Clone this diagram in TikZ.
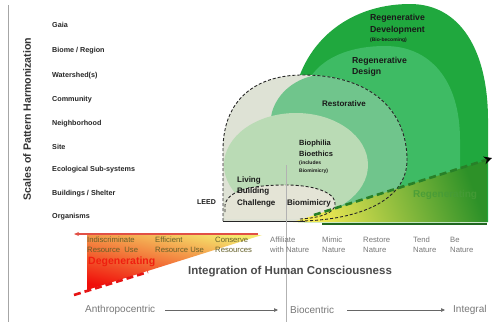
\documentclass[tikz,border=0pt]{standalone}
\usepackage{fontspec}
\setmainfont{Liberation Sans}
\usetikzlibrary{arrows.meta}
\definecolor{devgreen}{RGB}{32,168,62}
\definecolor{desgreen}{RGB}{62,187,100}
\definecolor{resgreen}{RGB}{112,197,140}
\definecolor{biogreen}{RGB}{186,219,181}
\definecolor{graybg}{RGB}{222,226,213}
\definecolor{lbcfill}{RGB}{228,228,214}
\definecolor{dashgreen}{RGB}{40,128,40}
\definecolor{olive}{RGB}{100,95,40}
\definecolor{lblgray}{RGB}{120,120,120}
\definecolor{degred}{RGB}{240,30,15}
\definecolor{regtext}{RGB}{70,155,55}
\definecolor{triY}{RGB}{245,235,85}
\definecolor{triM}{RGB}{200,215,70}
\definecolor{triG}{RGB}{45,145,40}
\definecolor{degY}{RGB}{245,232,110}
\definecolor{degO}{RGB}{250,140,40}
\definecolor{degR}{RGB}{240,15,10}
\definecolor{redline}{RGB}{225,80,70}
\definecolor{reddash}{RGB}{230,20,20}
\tikzset{
  scalelbl/.style={anchor=base west, inner sep=0, text=black!85, font=\fontsize{7.2}{8}\selectfont\bfseries},
  shapelbl/.style={anchor=base west, inner sep=0, text=black!90, font=\fontsize{8.7}{10}\selectfont\bfseries},
  smalllbl/.style={anchor=base west, inner sep=0, text=black!90, font=\fontsize{5}{6}\selectfont\bfseries},
  axlbl/.style={anchor=base west, inner sep=0, font=\fontsize{7.7}{8}\selectfont},
  botlbl/.style={anchor=west, inner sep=0, text=lblgray, font=\fontsize{10}{11}\selectfont},
  botarrow/.style={draw=black!60, line width=0.6pt, -{Triangle[length=4pt,width=3.5pt]}},
}
\begin{document}
\begin{tikzpicture}[x=1pt,y=-1pt]
\fill[white] (0,0) rectangle (494,322);
\useasboundingbox (0,0) rectangle (494,322);

% left guide line
\coordinate (lgtop) at (8,5);
\coordinate (lgbot) at (8,322);
\draw[black!35, line width=0.8pt] (lgtop) -- (lgbot);

% outer regions
\fill[devgreen] (298,80) .. controls (315,30) and (360,4) .. (410,4)
  .. controls (460,4) and (488,50) .. (488,120) -- (488,222) -- (298,222) -- cycle;
\fill[desgreen] (304,90) .. controls (315,58) and (350,46) .. (385,46)
  .. controls (430,46) and (460,80) .. (460,140) -- (460,222) -- (304,222) -- cycle;

% dashed region (gray)
\fill[graybg] (223,221) -- (223,150) .. controls (223,100) and (255,76) .. (300,75)
  .. controls (370,74) and (407,110) .. (407,160)
  .. controls (407,200) and (360,220) .. (300,221) -- cycle;
\begin{scope}
\clip (223,221) -- (223,150) .. controls (223,100) and (255,76) .. (300,75)
  .. controls (370,74) and (407,110) .. (407,160)
  .. controls (407,200) and (360,220) .. (300,221) -- cycle;
\fill[resgreen] (330,60) -- (312,76) .. controls (295,80) and (278,92) .. (272,112)
  -- (255,200) -- (430,230) -- (430,60) -- cycle;
\fill[biogreen] (296,165) ellipse [x radius=72, y radius=52];
\end{scope}

% LBC ellipse
\fill[lbcfill] (225,219) -- (225,205) .. controls (228,188) and (260,185) .. (285,185)
  .. controls (320,185) and (337,195) .. (335,205)
  .. controls (334,213) and (320,218) .. (300,219) -- cycle;

% regenerating triangle
\shade[bottom color=triY, middle color=triM, top color=triG, shading angle=-70]
  (293,222) -- (487,160) -- (487,222) -- cycle;
\begin{scope}
\clip (380,180) rectangle (486,205);
\node[anchor=base west, inner sep=0, text=regtext, font=\fontsize{10}{12}\selectfont\bfseries, opacity=0.85] (regen) at (413,197) {Regenerating};
\end{scope}
\coordinate (gbl) at (322,224);
\coordinate (gbr) at (487,224);
\draw[dashgreen!80!black, line width=1.2pt] (gbl) -- (gbr);

% dashed outlines
\draw[black!85, line width=0.9pt, dash pattern=on 3pt off 2pt]
  (223,221) -- (223,150) .. controls (223,100) and (255,76) .. (300,75)
  .. controls (370,74) and (407,110) .. (407,160)
  .. controls (407,200) and (360,220) .. (300,221);
\coordinate (bl1) at (223,221);
\coordinate (bl2) at (305,221);
\draw[black!85, line width=1pt] (bl1) -- (bl2);
\draw[black!85, line width=0.9pt, dash pattern=on 3pt off 2pt]
  (225,212) -- (225,205) .. controls (228,188) and (260,185) .. (285,185)
  .. controls (320,185) and (337,195) .. (335,205)
  .. controls (334,213) and (320,218) .. (300,219);

% thick green dashed trajectory
\coordinate (gstart) at (314,215);
\coordinate (gend) at (492,158);
\draw[dashgreen, line width=2.6pt, dash pattern=on 7pt off 4pt,
  -{Stealth[length=8pt,width=8pt,color=black]}] (gstart) -- (gend);

% vertical divider
\coordinate (vtop) at (286,165);
\coordinate (vbot) at (286,322);
\draw[black!30, line width=0.6pt] (vtop) -- (vbot);

% degenerating triangle
\shade[top color=degY, middle color=degO, bottom color=degR, shading angle=-12]
  (87,235) -- (262,235) -- (87,290) -- cycle;
\coordinate (redR) at (258,234);
\coordinate (redL) at (74,234);
\draw[redline, line width=1.1pt, -{Stealth[length=5pt,width=4pt]}] (redR) -- (redL);
\coordinate (rd1) at (74,295);
\coordinate (rd2) at (148,272);
\draw[reddash, line width=2.6pt, dash pattern=on 7pt off 4pt] (rd1) -- (rd2);
\node[anchor=base west, inner sep=0, text=degred, font=\fontsize{10.5}{12}\selectfont\bfseries] (degen) at (88,264) {Degenerating};

% y axis label
\node[rotate=90, inner sep=0, text=black!80, font=\fontsize{10.6}{12}\selectfont\bfseries] (yaxis) at (27,119) {Scales of Pattern Harmonization};

% scale labels
\node[scalelbl] (s1) at (52,27.5) {Gaia};
\node[scalelbl] (s2) at (52,52.5) {Biome / Region};
\node[scalelbl] (s3) at (52,77.5) {Watershed(s)};
\node[scalelbl] (s4) at (52,101.5) {Community};
\node[scalelbl] (s5) at (52,125.5) {Neighborhood};
\node[scalelbl] (s6) at (52,149.5) {Site};
\node[scalelbl] (s7) at (52,171.5) {Ecological Sub-systems};
\node[scalelbl] (s8) at (52,195.5) {Buildings / Shelter};
\node[scalelbl] (s9) at (52,218.5) {Organisms};

% region labels
\node[shapelbl] (rd1t) at (370,20) {Regenerative};
\node[shapelbl] (rd2t) at (370,32) {Development};
\node[smalllbl] (rd3t) at (370,41.5) {(Bio-becoming)};
\node[shapelbl] (rg1t) at (352,63) {Regenerative};
\node[shapelbl] (rg2t) at (352,74) {Design};
\node[shapelbl, font=\fontsize{8}{10}\selectfont\bfseries] (rest) at (322,106) {Restorative};
\node[shapelbl, font=\fontsize{7.5}{9}\selectfont\bfseries] (bp1) at (299,145) {Biophilia};
\node[shapelbl, font=\fontsize{7.5}{9}\selectfont\bfseries] (bp2) at (299,156) {Bioethics};
\node[smalllbl] (bp3) at (299,164.5) {(includes};
\node[smalllbl] (bp4) at (299,172) {Biomimicry)};
\node[shapelbl, font=\fontsize{8}{10}\selectfont\bfseries] (lbc1) at (237,182) {Living};
\node[shapelbl, font=\fontsize{8}{10}\selectfont\bfseries] (lbc2) at (237,193) {Building};
\node[shapelbl, font=\fontsize{8}{10}\selectfont\bfseries] (lbc3) at (237,205) {Challenge};
\node[shapelbl, font=\fontsize{8}{10}\selectfont\bfseries] (bmim) at (287,205) {Biomimicry};
\node[shapelbl, font=\fontsize{7}{8}\selectfont\bfseries] (leed) at (197,204.5) {LEED};

% axis step labels
\node[axlbl, text=olive] (a1) at (87,242) {Indiscriminate};
\node[axlbl, text=olive] (a1b) at (87,252) {Resource~ Use};
\node[axlbl, text=olive] (a2) at (155,242) {Efficient};
\node[axlbl, text=olive] (a2b) at (155,252) {Resource Use};
\node[axlbl, text=olive] (a3) at (215,242) {Conserve};
\node[axlbl, text=olive] (a3b) at (215,252) {Resources};
\node[axlbl, text=lblgray] (a4) at (270,242) {Affiliate};
\node[axlbl, text=lblgray] (a4b) at (270,252) {with Nature};
\node[axlbl, text=lblgray] (a5) at (322,242) {Mimic};
\node[axlbl, text=lblgray] (a5b) at (322,252) {Nature};
\node[axlbl, text=lblgray] (a6) at (363,242) {Restore};
\node[axlbl, text=lblgray] (a6b) at (363,252) {Nature};
\node[axlbl, text=lblgray] (a7) at (413,242) {Tend};
\node[axlbl, text=lblgray] (a7b) at (413,252) {Nature};
\node[axlbl, text=lblgray] (a8) at (450,242) {Be};
\node[axlbl, text=lblgray] (a8b) at (450,252) {Nature};

\node[inner sep=0, text=black!70, font=\fontsize{11.5}{13}\selectfont\bfseries] (integ) at (290,272) {Integration of Human Consciousness};

% bottom row
\node[botlbl] (anthro) at (85,310) {Anthropocentric};
\node[botlbl] (bio) at (290,310) {Biocentric};
\node[botlbl] (integral) at (453,310) {Integral};
\draw[botarrow, shorten <=10pt, shorten >=12pt] (anthro.east) -- (bio.west);
\draw[botarrow, shorten <=13pt, shorten >=8pt] (bio.east) -- (integral.west);
\end{tikzpicture}
\end{document}
